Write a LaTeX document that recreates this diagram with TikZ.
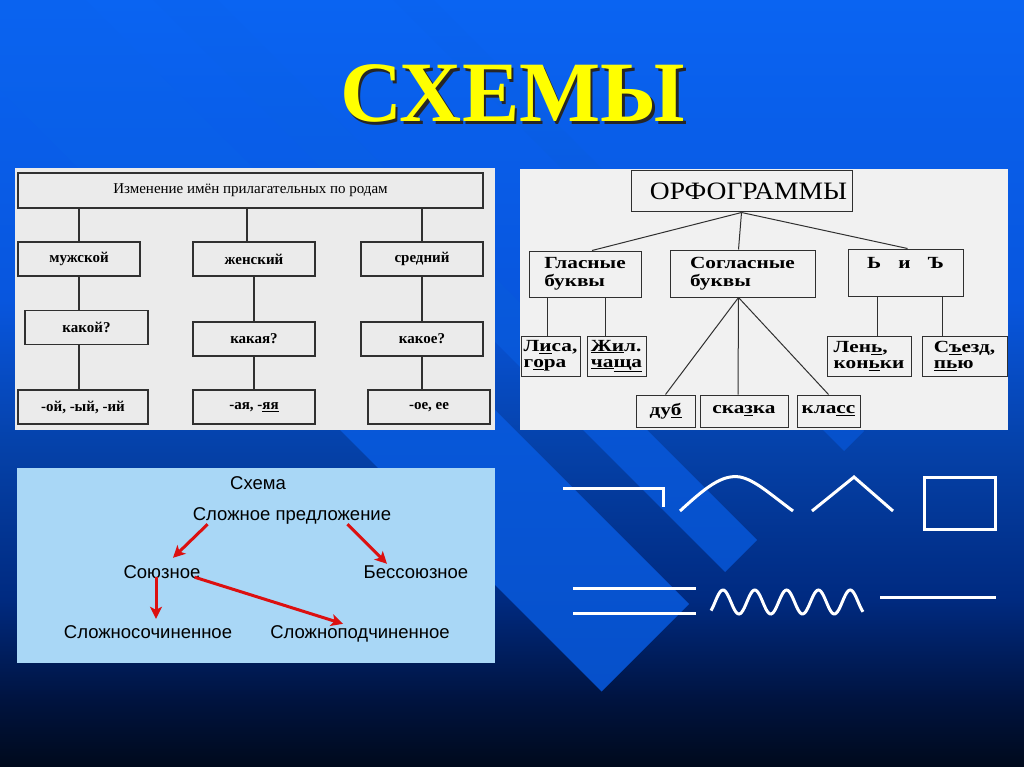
\documentclass[tikz,border=0pt]{standalone}
\usepackage{fontspec}
\setmainfont{Liberation Serif}
\setsansfont{Liberation Sans}
\newfontfamily\scanfont[FakeStretch=1.25]{Liberation Serif}
\newfontfamily\orffont[FakeStretch=1.1]{Liberation Serif}
\usetikzlibrary{arrows.meta}

\definecolor{bgA}{HTML}{0A64F2}
\definecolor{bgB}{HTML}{0856DE}
\definecolor{bgC}{HTML}{0541A8}
\definecolor{bgD}{HTML}{002A80}
\definecolor{bgE}{HTML}{00133F}
\definecolor{bgF}{HTML}{000A1C}
\definecolor{bandtop}{HTML}{0A63F0}
\definecolor{bandbot}{HTML}{0650CA}
\definecolor{paperA}{HTML}{EBEBEB}
\definecolor{paperB}{HTML}{F1F1F1}
\definecolor{skyblue}{HTML}{A9D7F6}
\definecolor{linegray}{HTML}{303030}
\definecolor{arrred}{HTML}{DC1010}
\definecolor{titleyellow}{HTML}{FFFF00}
\pgfdeclareverticalshading{slidebg}{100bp}{color(0bp)=(bgF); color(25bp)=(bgF); color(29.35bp)=(bgE); color(35.9bp)=(bgD); color(45.7bp)=(bgC); color(55.45bp)=(bgB); color(75bp)=(bgA); color(100bp)=(bgA)}

\begin{document}
\begin{tikzpicture}[x=1pt, y=-1pt,
  titletxt/.style={anchor=base, inner sep=0, font=\bfseries\fontsize{86}{86}\selectfont},
  tlbox/.style={draw=linegray, line width=1.2pt, minimum height=34pt, inner sep=0,
    font=\bfseries\fontsize{15}{15}\selectfont},
  tlline/.style={draw=linegray, line width=1.2pt},
  orfbox/.style={draw=linegray, line width=1pt, inner sep=0, align=left,
    font=\scanfont\bfseries\fontsize{17}{18}\selectfont},
  smallbox/.style={orfbox, font=\scanfont\bfseries\fontsize{17}{16}\selectfont},
  orfline/.style={draw=linegray, line width=1pt},
  sch/.style={anchor=base, inner sep=0, text height=14pt, text depth=4pt,
    font=\sffamily\fontsize{18.5}{18.5}\selectfont},
  arr/.style={draw=arrred, line width=3pt, -{Stealth[length=12pt, width=12pt, inset=3pt]}},
  sign/.style={draw=white, line width=3pt}
]
\path[use as bounding box] (0,0) rectangle (1024,767);
\clip (0,0) rectangle (1024,767);
\shade[shading=slidebg] (0,0) rectangle (1024,767);

\shade[top color=bandtop, bottom color=bandbot] (-90,0) -- (85,0) -- (689,604) -- (601.5,691.5) -- cycle;
\shade[top color=bandtop, bottom color=bandbot] (153,0) -- (217,0) -- (757,540) -- (725,572) -- cycle;
\shade[top color=bandtop, bottom color=bandbot] (393,0) -- (433,0) -- (864,431) -- (844,451) -- cycle;

\node[titletxt, text=black!85] (titleshadow) at (515,124.5) {СХЕМЫ};
\node[titletxt, text=titleyellow] (title) at (512.5,122) {СХЕМЫ};

\fill[paperA] (15,168) rectangle (495,430);
\node[tlbox, minimum width=465pt, minimum height=35pt, font=\fontsize{15}{15}\selectfont] (head) at (250.5,190.5) {Изменение имён прилагательных по родам};
\node[tlbox, minimum width=122pt] (masc) at (79,259) {мужской};
\node[tlbox, minimum width=122pt] (fem) at (254,259) {женский};
\node[tlbox, minimum width=122pt] (neut) at (422,259) {средний};
\node[tlbox, minimum width=123pt] (mascq) at (86.5,327.5) {какой?};
\node[tlbox, minimum width=122pt] (femq) at (254,339) {какая?};
\node[tlbox, minimum width=122pt] (neutq) at (422,339) {какое?};
\node[tlbox, minimum width=130pt] (masce) at (83,407) {-ой, -ый, -ий};
\node[tlbox, minimum width=122pt] (feme) at (254,407) {-ая, -\underline{яя}};
\node[tlbox, minimum width=122pt] (neute) at (429,407) {-ое, ее};

\draw[tlline] (masc.north) -- (masc.north |- head.south);
\draw[tlline] ([xshift=-7pt]fem.north) -- ([xshift=-7pt]fem.north |- head.south);
\draw[tlline] (neut.north) -- (neut.north |- head.south);
\draw[tlline] (masc.south) -- (masc.south |- mascq.north);
\draw[tlline] (masc.south |- mascq.south) -- (masc.south |- masce.north);
\draw[tlline] (fem.south) -- (femq.north);
\draw[tlline] (femq.south) -- (feme.north);
\draw[tlline] (neut.south) -- (neutq.north);
\draw[tlline] (neutq.south) -- (neutq.south |- neute.north);

\fill[paperB] (520,169) rectangle (1008,430);
\node[orfbox, minimum width=221pt, minimum height=41pt, font=\orffont\fontsize{25}{25}\selectfont] (orf) at (741.5,191.5) {\hspace*{14pt}ОРФОГРАММЫ};
\node[orfbox, minimum width=112pt, minimum height=46pt] (vowels) at (585,274) {Гласные\\буквы};
\node[orfbox, minimum width=145pt, minimum height=47pt] (cons) at (742.5,273.5) {Согласные\\буквы};
\node[orfbox, minimum width=115pt, minimum height=47pt, text depth=20pt] (signs) at (905.5,272.5) {Ь\quad и\quad Ъ};
\node[smallbox, minimum width=59pt, minimum height=40pt] (lisa) at (550.5,356) {Л\underline{и}са,\\г\underline{о}ра};
\node[smallbox, minimum width=59pt, minimum height=40pt] (zhil) at (616.5,356) {\underline{Жи}л.\\\underline{ча}\underline{ща}};
\node[smallbox, minimum width=59pt, minimum height=32pt] (dub) at (665.5,411) {ду\underline{б}};
\node[smallbox, minimum width=88pt, minimum height=32pt] (skazka) at (744,411) {ска\underline{з}ка};
\node[smallbox, minimum width=63pt, minimum height=32pt] (klass) at (828.5,411) {кла\underline{сс}};
\node[smallbox, minimum width=84pt, minimum height=40pt] (len) at (869,356) {Лен\underline{ь},\\кон\underline{ь}ки};
\node[smallbox, minimum width=85pt, minimum height=40pt] (sjezd) at (964.5,356) {С\underline{ъ}езд,\\\underline{пь}ю};

\draw[orfline] (orf.south) -- ([xshift=7pt]vowels.north);
\draw[orfline] (orf.south) -- ([xshift=-4pt]cons.north);
\draw[orfline] (orf.south) -- ([xshift=2pt]signs.north);
\draw[orfline] ([xshift=-3pt]lisa.north) -- ([xshift=-3pt]lisa.north |- vowels.south);
\draw[orfline] ([xshift=-11pt]zhil.north) -- ([xshift=-11pt]zhil.north |- vowels.south);
\draw[orfline] ([xshift=-4pt]cons.south) -- (dub.north);
\draw[orfline] ([xshift=-4pt]cons.south) -- ([xshift=-6pt]skazka.north);
\draw[orfline] ([xshift=-4pt]cons.south) -- (klass.north);
\draw[orfline] ([xshift=8pt]len.north) -- ([xshift=8pt]len.north |- signs.south);
\draw[orfline] ([xshift=-22pt]sjezd.north) -- ([xshift=-22pt]sjezd.north |- signs.south);

\fill[skyblue] (17,468) rectangle (495,663);
\node[sch] (schema) at (258,489) {Схема};
\node[sch] (complex) at (292,520) {Сложное предложение};
\node[sch] (conj) at (162,578) {Союзное};
\node[sch] (nonconj) at (416,578) {Бессоюзное};
\node[sch] (coord) at (148,638) {Сложносочиненное};
\node[sch] (subord) at (360,638) {Сложноподчиненное};

\draw[arr] ([xshift=15pt]complex.south west) -- ([xshift=11pt, yshift=6pt]conj.north);
\draw[arr] ([xshift=-44pt]complex.south east) -- ([xshift=-29pt]nonconj.north);
\draw[arr] ([xshift=-6pt, yshift=5pt]conj.south) -- ([xshift=-6pt, yshift=5pt]conj.south |- coord.north);
\draw[arr] ([xshift=-6pt, yshift=5pt]conj.south east) -- ([xshift=73pt]subord.north west);

\draw[sign] (563,488) -- (663,488) -- (663,507);
\draw[sign] (680,511) .. controls (705,488) and (722,474) .. (740,477) .. controls (755,480) and (770,494) .. (793,511);
\draw[sign] (812,511) -- (854,477) -- (893,511);
\draw[sign] (924,477) rectangle (995,529);
\draw[sign] (573,588) -- (696,588);
\draw[sign] (573,613) -- (696,613);
\draw[sign] plot[domain=711:863, samples=120, smooth] (\x, {602-12*cos((\x-723)/31.8*360)});
\draw[sign] (880,597) -- (996,597);
\end{tikzpicture}
\end{document}
